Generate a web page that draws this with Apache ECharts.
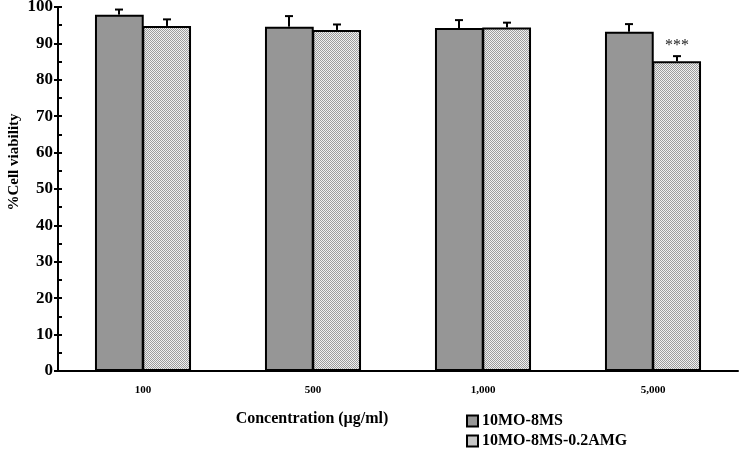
<!DOCTYPE html>
<html>
<head>
<meta charset="utf-8">
<script src="https://cdn.jsdelivr.net/npm/echarts@6/dist/echarts.min.js"></script>
<style>
  html, body { margin: 0; padding: 0; background: #fff; }
  #chart { width: 740px; height: 451px; }
</style>
</head>
<body>
<div id="chart"></div>
<script>
// data
const categories = ['100', '500', '1,000', '5,000'];
const seriesNames = ['10MO-8MS', '10MO-8MS-0.2AMG'];
const meanA = [97.9, 94.6, 94.2, 93.2];
const sdA = [1.4, 2.9, 2.2, 2.1];
const meanB = [94.8, 93.7, 94.4, 85.1];
const sdB = [1.8, 1.5, 1.3, 1.4];
const sigB = ['', '', '', '***'];
const yTicks = [0, 10, 20, 30, 40, 50, 60, 70, 80, 90, 100];

const FONT = '"Liberation Serif", "Times New Roman", serif';
const GAP = 0.435; // barCategoryGap as fraction

// fine dotted fill for the second series
function makePattern() {
  const c = document.createElement('canvas');
  c.width = 2; c.height = 2;
  const ctx = c.getContext('2d');
  ctx.fillStyle = '#f0f0f0';
  ctx.fillRect(0, 0, 2, 2);
  ctx.fillStyle = '#9c9c9c';
  ctx.fillRect(0, 0, 1, 1);
  ctx.fillRect(1, 1, 1, 1);
  return c;
}
const pattern = { image: makePattern(), repeat: 'repeat' };

function errSeries(means, sds, side, sig) {
  return {
    type: 'custom',
    silent: true,
    z: 5,
    data: means.map((m, i) => [i, m, sds[i]]),
    renderItem: function (params, api) {
      const idx = api.value(0);
      const m = api.value(1);
      const sd = api.value(2);
      const band = api.size([1, 0])[0];
      const barW = band * (1 - GAP) / 2;
      const base = api.coord([idx, m]);
      const top = api.coord([idx, m + sd]);
      const x = base[0] + side * barW / 2;
      const cap = 4;
      const children = [
        { type: 'line', shape: { x1: x, y1: base[1], x2: x, y2: top[1] },
          style: { stroke: '#000', lineWidth: 2 } },
        { type: 'line', shape: { x1: x - cap, y1: top[1], x2: x + cap, y2: top[1] },
          style: { stroke: '#000', lineWidth: 2 } }
      ];
      if (sig && sig[idx]) {
        children.push({
          type: 'text',
          style: { text: sig[idx], x: x, y: top[1] - 10, align: 'center', verticalAlign: 'middle',
                   font: '16px ' + FONT, fill: '#222' }
        });
      }
      return { type: 'group', children: children };
    }
  };
}

const legendText = { fontFamily: FONT, fontWeight: 'bold', fontSize: 16, color: '#000', padding: [0, 0, 0, -1] };

const chart = echarts.init(document.getElementById('chart'), null, { renderer: 'canvas' });
chart.setOption({
  animation: false,
  backgroundColor: '#fff',
  grid: { left: 58, right: 2, top: 7, bottom: 80, containLabel: false, outerBoundsMode: 'none' },
  legend: [{
    data: [seriesNames[0]],
    left: 461, top: 408,
    icon: 'rect', itemWidth: 11, itemHeight: 11,
    itemStyle: { borderColor: '#000', borderWidth: 2 },
    textStyle: legendText
  }, {
    data: [seriesNames[1]],
    left: 461, top: 428,
    icon: 'rect', itemWidth: 11, itemHeight: 11,
    itemStyle: { borderColor: '#000', borderWidth: 2 },
    textStyle: legendText
  }],
  graphic: [{
    type: 'text',
    x: 312, y: 419,
    style: { text: 'Concentration (\u00b5g/ml)', font: 'bold 16px ' + FONT, fill: '#000',
             align: 'center', verticalAlign: 'middle' }
  }, {
    type: 'text',
    x: 14, y: 162,
    rotation: Math.PI / 2,
    style: { text: '%Cell viability', font: 'bold 15px ' + FONT, fill: '#000',
             align: 'center', verticalAlign: 'middle' }
  }],
  xAxis: {
    type: 'category',
    data: categories,
    axisLine: { lineStyle: { color: '#000', width: 2 } },
    axisTick: { show: false },
    axisLabel: { margin: 14, fontFamily: FONT, fontWeight: 'bold', fontSize: 11, color: '#000' }
  },
  yAxis: [{
    type: 'value',
    min: yTicks[0],
    max: yTicks[yTicks.length - 1],
    interval: 10,
    axisLine: { show: true, lineStyle: { color: '#000', width: 2 } },
    axisTick: { show: true, length: 4, lineStyle: { color: '#000', width: 2 } },
    splitLine: { show: false },
    axisLabel: { margin: 5, fontFamily: FONT, fontWeight: 'bold', fontSize: 17, color: '#000' }
  }, {
    type: 'value',
    position: 'left',
    min: 0,
    max: 100,
    interval: 10,
    axisLine: { show: false },
    axisLabel: { show: false },
    splitLine: { show: false },
    axisTick: { show: true, inside: true, length: 4, lineStyle: { color: '#000', width: 2 } },
    minorTick: { show: true, splitNumber: 2, length: 4, lineStyle: { color: '#000', width: 2 } }
  }],
  series: [{
    name: seriesNames[0],
    type: 'bar',
    data: meanA,
    barGap: '-3%',
    barCategoryGap: (GAP * 100) + '%',
    itemStyle: { color: '#969696', borderColor: '#000', borderWidth: 2 }
  }, {
    name: seriesNames[1],
    type: 'bar',
    data: meanB,
    barGap: '-3%',
    barCategoryGap: (GAP * 100) + '%',
    itemStyle: { color: pattern, borderColor: '#000', borderWidth: 2 }
  },
  errSeries(meanA, sdA, -1, null),
  errSeries(meanB, sdB, 1, sigB)]
});
</script>
</body>
</html>
